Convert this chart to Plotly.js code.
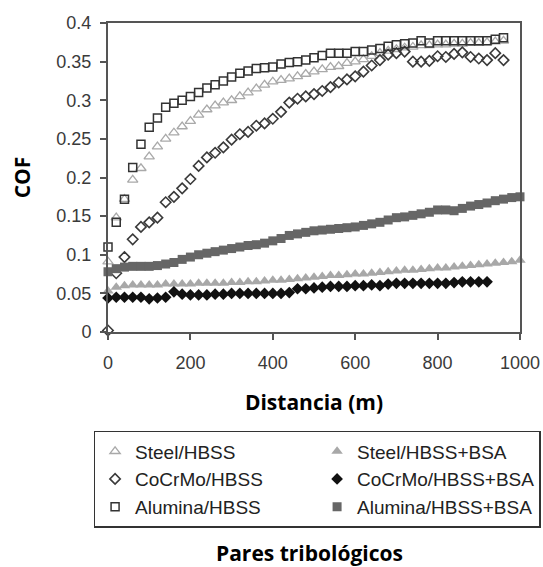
<!DOCTYPE html>
<html>
<head>
<meta charset="utf-8">
<script src="https://cdn.plot.ly/plotly-3.0.1.min.js"></script>
<style>html,body{margin:0;padding:0;background:#fff;}#chart{width:543px;height:567px;}</style>
</head>
<body>
<div id="chart"></div>
<script>
// distances (m)
const dist960 = [0,20,40,60,80,100,120,140,160,180,200,220,240,260,280,300,320,340,360,380,400,420,440,460,480,500,520,540,560,580,600,620,640,660,680,700,720,740,760,780,800,820,840,860,880,900,920,940,960];
const dist1000 = dist960.concat([980,1000]);
const dist920 = dist960.slice(0, 47);

const steelHBSS = [0.091,0.148,0.172,0.197,0.212,0.227,0.240,0.250,0.258,0.266,0.273,0.281,0.288,0.293,0.297,0.300,0.305,0.310,0.315,0.320,0.324,0.326,0.328,0.331,0.334,0.337,0.340,0.343,0.344,0.348,0.350,0.353,0.357,0.361,0.364,0.366,0.368,0.369,0.371,0.371,0.372,0.372,0.373,0.373,0.374,0.374,0.375,0.376,0.377];
const cocrmoHBSS = [0.002,0.076,0.097,0.120,0.136,0.142,0.148,0.168,0.175,0.186,0.198,0.215,0.226,0.232,0.239,0.249,0.256,0.259,0.267,0.270,0.276,0.285,0.297,0.302,0.305,0.308,0.312,0.317,0.323,0.327,0.331,0.337,0.345,0.352,0.359,0.361,0.363,0.350,0.350,0.351,0.357,0.356,0.360,0.362,0.356,0.354,0.352,0.361,0.352];
const aluminaHBSS = [0.110,0.142,0.172,0.213,0.243,0.265,0.277,0.291,0.296,0.300,0.305,0.310,0.316,0.320,0.325,0.330,0.335,0.338,0.341,0.342,0.343,0.347,0.349,0.350,0.352,0.355,0.358,0.361,0.361,0.361,0.363,0.363,0.365,0.367,0.370,0.372,0.373,0.374,0.377,0.374,0.377,0.377,0.377,0.377,0.377,0.377,0.377,0.379,0.381];
const steelBSA = [0.053,0.058,0.060,0.061,0.061,0.061,0.061,0.062,0.062,0.062,0.062,0.063,0.063,0.063,0.063,0.064,0.064,0.065,0.065,0.066,0.067,0.067,0.068,0.069,0.070,0.071,0.072,0.073,0.073,0.074,0.075,0.075,0.076,0.077,0.078,0.079,0.080,0.080,0.081,0.082,0.083,0.083,0.084,0.085,0.086,0.087,0.088,0.089,0.090,0.091,0.093];
const cocrmoBSA = [0.044,0.045,0.045,0.045,0.045,0.043,0.044,0.045,0.052,0.049,0.048,0.048,0.048,0.049,0.049,0.050,0.050,0.050,0.050,0.050,0.050,0.050,0.051,0.056,0.056,0.057,0.058,0.059,0.059,0.059,0.060,0.060,0.061,0.060,0.062,0.063,0.063,0.063,0.063,0.063,0.063,0.063,0.064,0.065,0.065,0.065,0.065];
const aluminaBSA = [0.078,0.082,0.084,0.085,0.085,0.085,0.086,0.088,0.090,0.094,0.097,0.100,0.102,0.104,0.106,0.108,0.110,0.112,0.113,0.115,0.118,0.121,0.125,0.127,0.129,0.131,0.132,0.133,0.134,0.135,0.136,0.138,0.140,0.142,0.145,0.148,0.149,0.151,0.153,0.155,0.158,0.158,0.157,0.160,0.163,0.165,0.167,0.170,0.172,0.174,0.175];

const names = ['Steel/HBSS','Steel/HBSS+BSA','CoCrMo/HBSS','CoCrMo/HBSS+BSA','Alumina/HBSS','Alumina/HBSS+BSA'];

function tr(name, x, y, symbol, color, size, lw) {
  return {type:'scatter', mode:'markers', name:name, x:x, y:y, cliponaxis:false,
    marker:{symbol:symbol, color:color, size:size, line:{color:color, width:lw}}};
}

const data = [
  tr(names[0], dist960, steelHBSS, 'triangle-up-open', '#a9a9a9', 9, 1.3),
  tr(names[1], dist1000, steelBSA, 'triangle-up', '#a8a8a8', 10, 0),
  tr(names[2], dist960, cocrmoHBSS, 'diamond-open', '#3a3a3a', 8, 1.6),
  tr(names[3], dist920, cocrmoBSA, 'diamond', '#111111', 9, 0),
  tr(names[4], dist960, aluminaHBSS, 'square-open', '#333333', 8, 1.5),
  tr(names[5], dist1000, aluminaBSA, 'square', '#666666', 9, 0)
];

const tickFont = {family:'Liberation Sans, Arial, sans-serif', size:18, color:'#3a3a3a'};
const titleFont = {family:'Open Sans, sans-serif', size:21, color:'#000', weight:'bold'};

const layout = {
  width:543, height:567,
  margin:{l:108, r:23, t:23, b:235},
  paper_bgcolor:'#fff', plot_bgcolor:'#fff',
  showlegend:true,
  xaxis:{range:[0,1000], dtick:200, tick0:0, showgrid:false, zeroline:false,
    showline:true, linecolor:'#555', linewidth:2, mirror:true,
    ticks:'outside', ticklen:6, tickwidth:2, tickcolor:'#555', tickfont:tickFont,
    ticklabelstandoff:7,
    title:{text:'Distancia (m)', font:titleFont, standoff:24}},
  yaxis:{range:[0,0.4], dtick:0.05, tick0:0, showgrid:false, zeroline:false,
    showline:true, linecolor:'#555', linewidth:2, mirror:true,
    ticks:'outside', ticklen:6, tickwidth:2, tickcolor:'#555', tickfont:tickFont,
    ticklabelstandoff:5,
    title:{text:'COF', font:titleFont, standoff:20}},
  legend:{orientation:'h', x:-0.035, xanchor:'left', y:-0.32, yanchor:'top',
    entrywidth:177, entrywidthmode:'pixels',
    bordercolor:'#333', borderwidth:1.5, bgcolor:'#fff',
    font:{family:'Liberation Sans, Arial, sans-serif', size:19, color:'#222'},
    traceorder:'normal'},
  annotations:[{text:'Pares tribológicos', xref:'paper', yref:'paper', x:0.49, y:-0.715,
    xanchor:'center', yanchor:'middle', showarrow:false, font:titleFont}]
};

Plotly.newPlot('chart', data, layout, {displayModeBar:false, staticPlot:true});
</script>
</body>
</html>
